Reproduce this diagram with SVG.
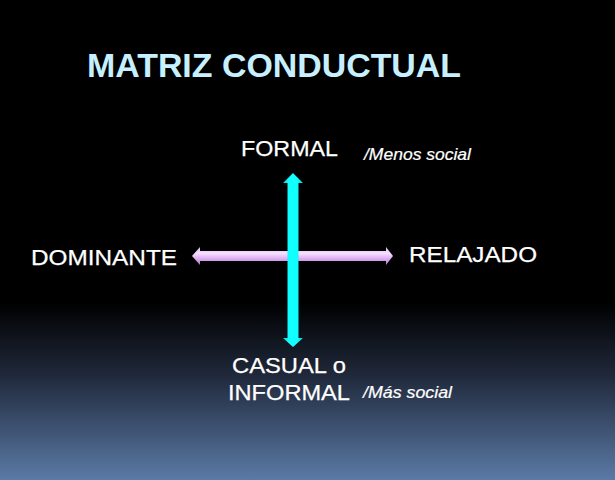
<svg xmlns="http://www.w3.org/2000/svg" width="615" height="480" viewBox="0 0 615 480">
  <defs>
    <linearGradient id="bg" x1="0" y1="0" x2="0" y2="1">
      <stop offset="0" stop-color="#000000"/>
      <stop offset="0.63" stop-color="#000000"/>
      <stop offset="0.78" stop-color="#1f283a"/>
      <stop offset="1" stop-color="#5b7aa6"/>
    </linearGradient>
    <linearGradient id="lav" x1="0" y1="0" x2="0" y2="1">
      <stop offset="0" stop-color="#e6b8f5"/>
      <stop offset="0.35" stop-color="#f6e0ff"/>
      <stop offset="0.7" stop-color="#d8a4ef"/>
      <stop offset="1" stop-color="#b07ccc"/>
    </linearGradient>
    <linearGradient id="cyan" x1="0" y1="0" x2="1" y2="0">
      <stop offset="0" stop-color="#00d6d6"/>
      <stop offset="0.3" stop-color="#12ffff"/>
      <stop offset="0.7" stop-color="#12ffff"/>
      <stop offset="1" stop-color="#00d6d6"/>
    </linearGradient>
  </defs>
  <style>
    .lbl { font-family: "Liberation Sans", Arial, sans-serif; fill: #ffffff; font-size: 22.5px; stroke: #ffffff; stroke-width: 0.25px; }
    .note { font-family: "Liberation Sans", Arial, sans-serif; fill: #ffffff; font-size: 16.5px; font-style: italic; stroke: #ffffff; stroke-width: 0.2px; }
    .title { font-family: "Liberation Sans", Arial, sans-serif; fill: #c6f0ff; font-size: 34px; font-weight: bold; }
  </style>
  <rect x="0" y="0" width="615" height="480" fill="url(#bg)"/>

  <g id="title">
    <text class="title" x="87" y="77" textLength="374" lengthAdjust="spacingAndGlyphs">MATRIZ CONDUCTUAL</text>
  </g>

  <g id="connectors">
    <polygon fill="url(#lav)" points="192,256 200,247 200,251 386,251 386,247 393,256 386,265 386,261 200,261 200,265"/>
    <polygon fill="url(#cyan)" points="293,173 303,183 298.5,183 298.5,338 303,338 293,347 283,338 287.5,338 287.5,183 283,183"/>
  </g>

  <g id="formal">
    <text class="lbl" x="241" y="156" textLength="97" lengthAdjust="spacingAndGlyphs">FORMAL</text>
    <text class="note" x="364" y="160" textLength="107" lengthAdjust="spacingAndGlyphs">/Menos social</text>
  </g>

  <g id="dominante">
    <text class="lbl" x="31" y="265" textLength="146" lengthAdjust="spacingAndGlyphs">DOMINANTE</text>
  </g>

  <g id="relajado">
    <text class="lbl" x="409" y="262" textLength="128" lengthAdjust="spacingAndGlyphs">RELAJADO</text>
  </g>

  <g id="informal">
    <text class="lbl" x="232" y="373" textLength="114" lengthAdjust="spacingAndGlyphs">CASUAL o</text>
    <text class="lbl" x="228" y="400" textLength="122" lengthAdjust="spacingAndGlyphs">INFORMAL</text>
    <text class="note" x="363" y="398" textLength="89" lengthAdjust="spacingAndGlyphs">/Más social</text>
  </g>
</svg>
